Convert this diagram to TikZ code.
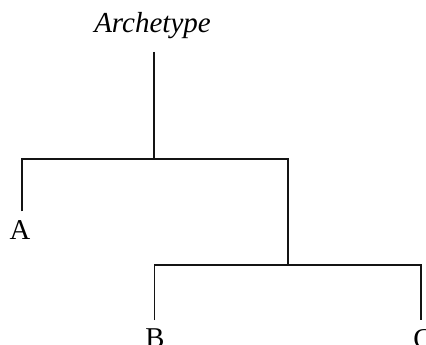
\documentclass[tikz,border=0pt]{standalone}
\usepackage{fontspec}
\setmainfont{Liberation Serif}
\begin{document}
\begin{tikzpicture}[x=1pt,y=-1pt,
  branch/.style={draw=black!92,line width=1.7pt},
  leaf/.style={anchor=base,inner sep=8.5pt,font=\fontsize{28.7}{34}\selectfont},
  rootlabel/.style={anchor=base,inner sep=0pt,font=\fontsize{29}{34}\selectfont\itshape}]
  \useasboundingbox (0,0) rectangle (426,345);
  \clip (0,0) rectangle (426,345);

  % labels
  \node[rootlabel] (archetype) at (152.5,32.3) {Archetype};
  \node[leaf] (a) at (20,239) {A};
  \node[leaf] (b) at (155,347.5) {B};
  \node[leaf] (c) at (423,348) {C};

  % tree points
  \coordinate (root) at (154,52);
  \coordinate (j1)  at (154,159);
  \coordinate (j1l) at (22,159);
  \coordinate (j1r) at (288,159);
  \coordinate (j2)  at (288,265);
  \coordinate (j2l) at (154.5,265);
  \coordinate (j2r) at (421,265);

  % branches
  \draw[branch] (root) -- (j1);
  \draw[branch] (j1l |- a.north) -- (j1l) -- (j1r) -- (j2);
  \draw[branch] (j2l |- b.north) -- (j2l) -- (j2r) -- (j2r |- c.north);
\end{tikzpicture}
\end{document}
